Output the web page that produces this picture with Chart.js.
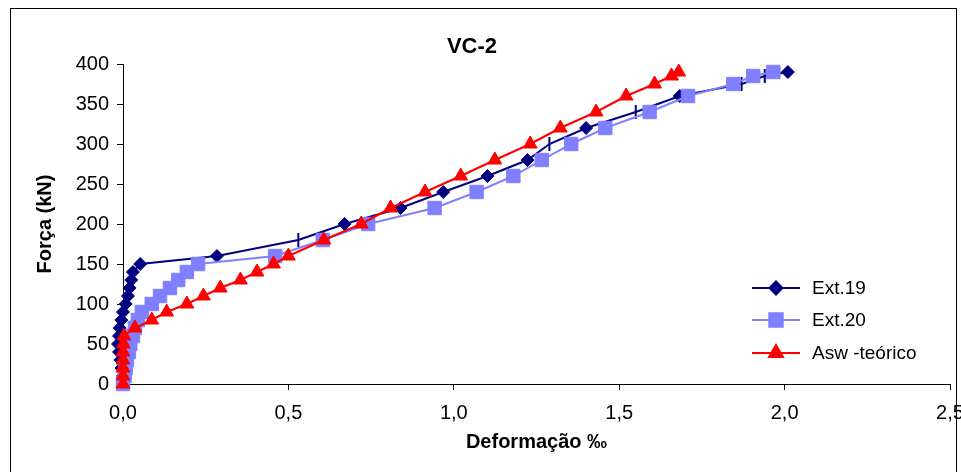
<!DOCTYPE html>
<html lang="pt-br">
  <head>
    <meta charset="UTF-8" />
    <title>VC-2</title>
    <script src="https://cdn.jsdelivr.net/npm/chart.js"></script>
    <style>
      body { margin: 0; background: #fff; }
      #grafico { display: block; }
    </style>
  </head>
  <body>
    <canvas id="grafico" width="961" height="472"></canvas>

<script>
  // cargas (kN) - iguais para as tres series
  var cargas = [0, 10, 20, 30, 40, 50, 60, 70, 80, 90, 100, 110, 120, 130, 140, 150,
    160, 180, 200, 220, 240, 260, 280, 300, 320, 340, 360, 375, 385, 390];

  // deformacoes (por mil)
  var ext19 = [0, 0, -0.005, -0.008, -0.012, -0.015, -0.012, -0.01, -0.005, 0, 0.008, 0.015, 0.02, 0.025, 0.03, 0.052,
    0.284, 0.53, 0.67, 0.839, 0.968, 1.102, 1.223, 1.289, 1.40, 1.55, 1.683, 1.87, 1.94, 2.01];
  var ext20 = [0, 0.005, 0.008, 0.012, 0.018, 0.022, 0.03, 0.036, 0.045, 0.057, 0.087, 0.112, 0.142, 0.167, 0.193, 0.227,
    0.46, 0.604, 0.741, 0.942, 1.069, 1.18, 1.266, 1.355, 1.458, 1.592, 1.708, 1.845, 1.905, 1.966];
  var aswTeorico = [0, 0, 0, 0, 0, 0.001, 0.003, 0.036, 0.087, 0.132, 0.193, 0.243, 0.294, 0.355, 0.405, 0.455,
    0.50, 0.607, 0.72, 0.809, 0.913, 1.021, 1.124, 1.231, 1.322, 1.43, 1.521, 1.607, 1.658, 1.68];

  // cargas do Ext.19 marcadas so com traço vertical
  var ext19Tracos = [180, 300, 340, 375, 385];

  var nomes = ["Ext.19", "Ext.20", "Asw -teórico"];
  var xTicks = [0, 0.5, 1.0, 1.5, 2.0, 2.5];
  var yTicks = [0, 50, 100, 150, 200, 250, 300, 350, 400];

  function pontos(xs) {
    var d = [];
    for (var i = 0; i < xs.length; i++) {
      d.push({ x: xs[i], y: cargas[i] });
    }
    return d;
  }

  function ehTraco(c) {
    return ext19Tracos.indexOf(cargas[c.dataIndex]) >= 0;
  }

  var fonte = "'Liberation Sans', Arial, sans-serif";

  // titulo, moldura e legenda desenhados a mao
  var extras = {
    id: "extras",
    afterDraw: function (chart) {
      var ctx = chart.ctx;
      ctx.save();
      ctx.strokeStyle = "#000";
      ctx.lineWidth = 1;
      ctx.strokeRect(10.5, 8.5, 946, 480);

      ctx.fillStyle = "#000";
      ctx.font = "bold 22px " + fonte;
      ctx.textAlign = "center";
      ctx.textBaseline = "middle";
      ctx.fillText("VC-2", 472, 47);

      ctx.font = "19px " + fonte;
      ctx.textAlign = "left";
      var ys = [288, 320, 353];
      for (var i = 0; i < 3; i++) {
        var ds = chart.data.datasets[i];
        ctx.strokeStyle = ds.borderColor;
        ctx.lineWidth = 2;
        ctx.beginPath();
        ctx.moveTo(752, ys[i]);
        ctx.lineTo(800, ys[i]);
        ctx.stroke();
        ctx.fillStyle = ds.borderColor;
        Chart.helpers.drawPoint(ctx, {
          pointStyle: ds.legendStyle,
          radius: ds.legendRadius,
          borderWidth: 1,
          rotation: 0
        }, 776, ys[i]);
        ctx.fillStyle = "#000";
        ctx.fillText(nomes[i], 812, ys[i] + 1);
      }
      ctx.restore();
    }
  };

  var ctx = document.getElementById("grafico");
  new Chart(ctx, {
    type: "scatter",
    data: {
      datasets: [
        {
          label: nomes[0],
          data: pontos(ext19),
          showLine: true,
          borderColor: "#000080",
          backgroundColor: "#000080",
          borderWidth: 2,
          pointRadius: function (c) { return ehTraco(c) ? 7 : 6.5; },
          legendRadius: 6.5,
          legendStyle: "rectRot",
          pointStyle: function (c) { return ehTraco(c) ? "line" : "rectRot"; },
          rotation: function (c) { return ehTraco(c) ? 90 : 0; },
          pointBorderWidth: function (c) { return ehTraco(c) ? 2 : 1; },
          clip: false,
          order: 3
        },
        {
          label: nomes[1],
          data: pontos(ext20),
          showLine: true,
          borderColor: "#8080FF",
          backgroundColor: "#8080FF",
          borderWidth: 2,
          pointRadius: 9.5,
          legendRadius: 9.5,
          pointStyle: "rect",
          legendStyle: "rect",
          pointBorderWidth: 1,
          clip: false,
          order: 2
        },
        {
          label: nomes[2],
          data: pontos(aswTeorico),
          showLine: true,
          borderColor: "#FF0000",
          backgroundColor: "#FF0000",
          borderWidth: 2,
          pointRadius: 8,
          legendRadius: 8,
          pointStyle: "triangle",
          legendStyle: "triangle",
          pointBorderWidth: 1,
          clip: false,
          order: 1
        }
      ]
    },
    options: {
      responsive: false,
      animation: false,
      layout: { padding: { top: 64, right: 11, bottom: 0, left: 0 } },
      plugins: {
        legend: { display: false },
        tooltip: { enabled: false }
      },
      scales: {
        x: {
          type: "linear",
          min: 0,
          max: 2.5,
          afterBuildTicks: function (s) {
            s.ticks = xTicks.map(function (v) { return { value: v }; });
          },
          afterFit: function (s) {
            s.height = 88;
            s.paddingLeft = 0;
            s.paddingRight = 0;
          },
          ticks: {
            color: "#000",
            font: { family: fonte, size: 20 },
            padding: 11,
            maxRotation: 0,
            callback: function (v) { return v.toFixed(1).replace(".", ","); }
          },
          grid: { drawOnChartArea: false, drawTicks: true, tickLength: 6, color: "#000" },
          border: { color: "#000", width: 1 },
          title: {
            display: true,
            text: "Deformação ‰",
            color: "#000",
            font: { family: fonte, size: 20, weight: "bold" },
            padding: { top: 0, bottom: 18 }
          }
        },
        y: {
          type: "linear",
          min: 0,
          max: 400,
          afterBuildTicks: function (s) {
            s.ticks = yTicks.map(function (v) { return { value: v }; });
          },
          afterFit: function (s) {
            s.width = 123;
          },
          ticks: {
            color: "#000",
            font: { family: fonte, size: 20 },
            padding: 8
          },
          grid: { drawOnChartArea: false, drawTicks: true, tickLength: 6, color: "#000" },
          border: { color: "#000", width: 1 },
          title: {
            display: true,
            text: "Força (kN)",
            color: "#000",
            font: { family: fonte, size: 20, weight: "bold" },
            padding: { top: 33, bottom: 0 }
          }
        }
      }
    },
    plugins: [extras]
  });
</script>
  </body>
</html>
